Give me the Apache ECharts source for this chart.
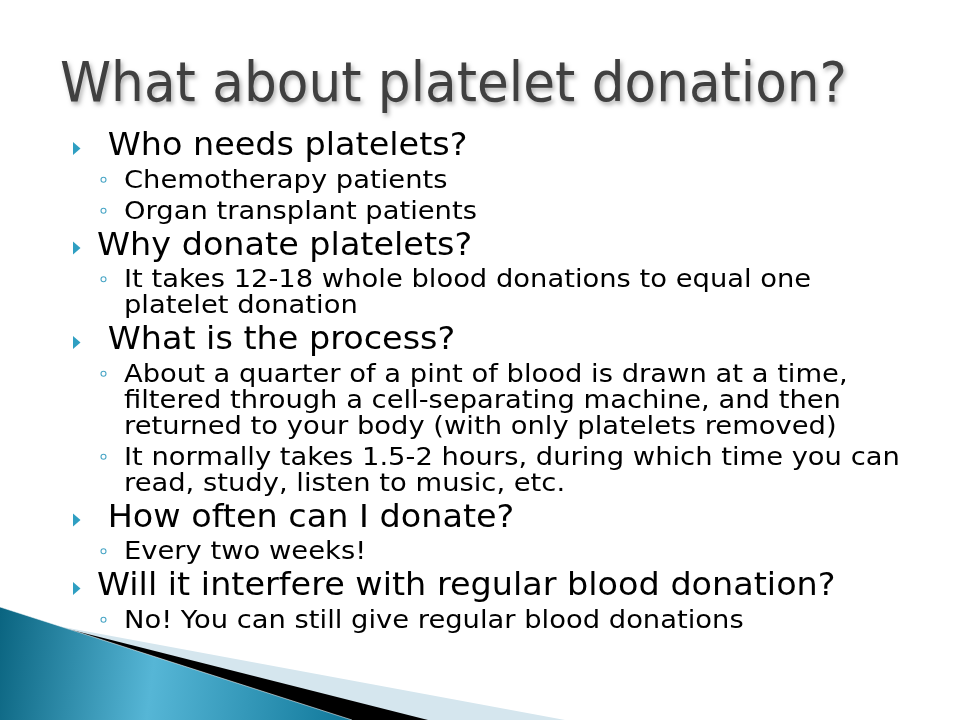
<!DOCTYPE html>
<html>
<head>
<meta charset="utf-8">
<title>What about platelet donation?</title>
<script src="https://cdn.jsdelivr.net/npm/echarts@6/dist/echarts.min.js"></script>
<style>
  html, body { margin: 0; padding: 0; background: #fff; }
  #slide { width: 960px; height: 720px; }
</style>
</head>
<body>
<div id="slide"></div>
<script>
// slide content
const titleText = 'What about platelet donation?'
const mainPoints = [
  ' Who needs platelets?',
  'Why donate platelets?',
  ' What is the process?',
  ' How often can I donate?',
  'Will it interfere with regular blood donation?'
]
// one list per main point, each sub point is a list of its wrapped lines
const subPoints = [
  [['Chemotherapy patients'], ['Organ transplant patients']],
  [['It takes 12-18 whole blood donations to equal one', 'platelet donation']],
  [
    [
      'About a quarter of a pint of blood is drawn at a time,',
      'filtered through a cell-separating machine, and then',
      'returned to your body (with only platelets removed)'
    ],
    [
      'It normally takes 1.5-2 hours, during which time you can',
      'read, study, listen to music, etc.'
    ]
  ],
  [['Every two weeks!']],
  [['No! You can still give regular blood donations']]
]

const FONT = "'DejaVu Sans', Verdana, sans-serif"

/**
 * text line, y is the baseline
 */
function textLine(text, x, baseline, size, scaleX, fill, extra) {
  return {
    type: 'text',
    x: x,
    y: baseline - size * 0.29,
    scaleX: scaleX,
    z: 10,
    style: Object.assign({
      text: text,
      fontSize: size,
      fontFamily: FONT,
      fill: fill,
      align: 'left',
      verticalAlign: 'middle',
      textAlign: 'left',
      textVerticalAlign: 'middle'
    }, extra || {})
  }
}

function mainBullet(baseline) {
  return {
    type: 'polygon',
    z: 10,
    shape: { points: [[73, baseline - 14], [80.5, baseline - 7.5], [73, baseline - 1]] },
    style: { fill: '#2f9fc2' }
  }
}

function subBullet(baseline) {
  return {
    type: 'circle',
    z: 10,
    shape: { cx: 103.5, cy: baseline - 8.7, r: 2.5 },
    style: { fill: '#fff', stroke: '#4aa6c6', lineWidth: 1.1 }
  }
}

/**
 * lay out the bullet list top-down
 */
function buildBody() {
  const els = []
  const gapBeforeMain = 36
  const gapMainToSub = 32.5
  const gapSubToSub = 31
  const gapWrap = 26
  let y = 156
  mainPoints.forEach((point, i) => {
    if (i > 0) y += gapBeforeMain
    els.push(mainBullet(y))
    els.push(textLine(point, 97, y, 32, 1.045, '#000'))
    subPoints[i].forEach((lines, j) => {
      y += j === 0 ? gapMainToSub : gapSubToSub
      els.push(subBullet(y))
      lines.forEach((line, k) => {
        if (k > 0) y += gapWrap
        els.push(textLine(line, 124, y, 24, 1.14, '#000'))
      })
    })
  })
  return els
}

/**
 * corner swoosh at bottom left
 */
function buildSwoosh() {
  return [
    {
      type: 'polygon',
      z: 1,
      shape: { points: [[52, 625], [565, 720], [0, 720]] },
      style: { fill: '#d5e6ee' }
    },
    {
      type: 'polygon',
      z: 2,
      shape: { points: [[52, 625], [428, 720], [0, 720]] },
      style: { fill: '#000' }
    },
    {
      type: 'polygon',
      z: 3,
      shape: { points: [[0, 607], [352, 720], [0, 720]] },
      style: {
        fill: {
          type: 'linear', x: 0, y: 0, x2: 1, y2: 0.4,
          colorStops: [
            { offset: 0, color: '#0a6480' },
            { offset: 0.45, color: '#56b6d6' },
            { offset: 1, color: '#127a9c' }
          ]
        }
      }
    },
    {
      type: 'polyline',
      z: 4,
      shape: { points: [[0, 607], [352, 720]] },
      style: { stroke: 'rgba(255,255,255,0.55)', lineWidth: 1 }
    }
  ]
}

const chart = echarts.init(document.getElementById('slide'), null, { renderer: 'canvas' })

const elements = [
  textLine(titleText, 60, 103, 55, 0.94, '#404040', {
    textShadowColor: 'rgba(0,0,0,0.3)',
    textShadowBlur: 4,
    textShadowOffsetX: 2,
    textShadowOffsetY: 3
  })
].concat(buildBody(), buildSwoosh())

chart.setOption({
  backgroundColor: '#ffffff',
  animation: false,
  graphic: { elements: elements }
})
</script>
</body>
</html>
